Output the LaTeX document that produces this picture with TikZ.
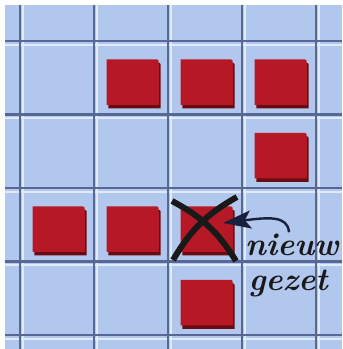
\documentclass[tikz,border=0pt]{standalone}
\usepackage{fontspec}
\usetikzlibrary{arrows.meta}
\definecolor{blauw}{RGB}{178,199,238}
\definecolor{lijnkleur}{RGB}{88,104,150}
\definecolor{glanskleur}{RGB}{225,234,250}
\definecolor{tegelrood}{RGB}{182,24,38}
\definecolor{schaduwrood}{RGB}{105,12,18}
\definecolor{pijlkleur}{RGB}{25,32,60}
\begin{document}
\begin{tikzpicture}[x=74pt,y=-73.5pt,
	lijn/.style={draw=lijnkleur,line width=2.5pt},
	glans/.style={draw=glanskleur,line width=2pt},
	tegel/.style={fill=tegelrood},
	schaduw/.style={fill=schaduwrood},
	kruis/.style={draw=black!90,line width=6pt},
	pijl/.style={draw=pijlkleur,line width=2.4pt,-{Stealth[length=28pt,width=18pt,inset=6pt]}},
	schrift/.style={font=\fontsize{32}{32}\selectfont\bfseries\itshape,text=black!90,inner sep=1pt,anchor=base}]
	\useasboundingbox(-.2703,-.5578)rectangle(4.3514,4.1905);
	\fill[white](-.2703,-.5578)rectangle(4.3514,4.1905);
	\fill[blauw](-.2027,-.4898)rectangle(4.3514,4.1905);
	\foreach \i in {0,...,4}{
		\draw[glans](\i+.04,-.4898)--(\i+.04,4.1905);
		\draw[glans](-.2027,\i+.05)--(4.3514,\i+.05);
	}
	\foreach \i in {0,...,4}{
		\draw[lijn](\i,-.4898)--(\i,4.1905);
		\draw[lijn](-.2027,\i)--(4.3514,\i);
	}
	\foreach \c/\r in {1/0,2/0,3/0,3/1,0/2,1/2,2/2,2/3}{
		\fill[schaduw,shift={(\c+.025,\r+.045)}](.17,.87)--(.17,.25)--(.81,.25)..controls(.875,.25)..(.875,.31)--(.875,.87)--cycle;
		\fill[tegel,shift={(\c,\r)}](.17,.87)--(.17,.25)--(.81,.25)..controls(.875,.25)..(.875,.31)--(.875,.87)--cycle;
	}
	\draw[kruis](2.054,2.177)to[bend left=15](2.919,2.993);
	\draw[kruis](2.932,2.122)to[bend right=15](2.068,2.980);
	\node[schrift](nieuw)at(3.675,2.912){nieuw};
	\node[schrift](gezet)at(3.625,3.388){gezet};
	\coordinate(doel)at(2.743,2.476);
	\draw[pijl]([xshift=-3pt]nieuw.north)..controls(3.62,2.37)and(3.35,2.40)..(doel);
\end{tikzpicture}
\end{document}
